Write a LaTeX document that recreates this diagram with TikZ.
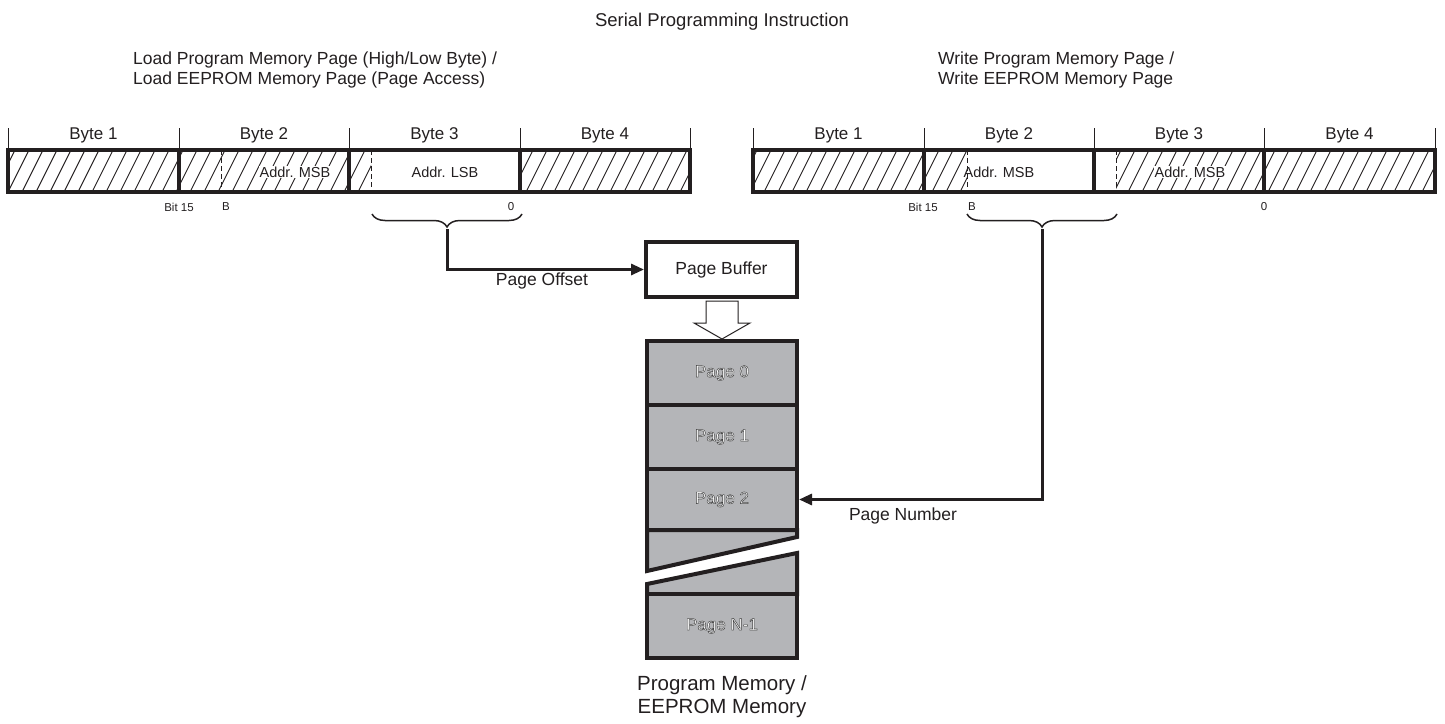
\documentclass[tikz,border=0pt]{standalone}
\usepackage{fontspec}
\setmainfont{Liberation Sans}
\usetikzlibrary{decorations.pathreplacing,arrows.meta}
\definecolor{ink}{HTML}{231F20}
\definecolor{memgray}{HTML}{B4B5B8}
\newcommand{\olt}[1]{\special{pdf:literal direct 0.25 0.25 0.25 RG 0.45 w 2 Tr}#1\special{pdf:literal direct 0 Tr}}
\newcommand{\hatchbox}[4]{%
  \begin{scope}
    \clip (#1,#2) rectangle (#3,#4);
    \foreach \k in {0,...,105} \draw[hatchline] (\k*14-21,#4+2) -- ++(24,-48);
  \end{scope}}
\tikzset{
  reg/.style={draw=ink, line width=4pt},
  ticks/.style={draw=ink, line width=1pt},
  hatchline/.style={draw=ink, line width=0.9pt},
  dashsep/.style={draw=ink, line width=1pt, dash pattern=on 5pt off 3pt},
  bytelabel/.style={font=\fontsize{17}{20}\selectfont, text=ink, anchor=base, inner sep=0pt},
  field/.style={font=\fontsize{14.5}{17}\selectfont, text=ink, fill=white, inner sep=1pt},
  plainfield/.style={font=\fontsize{14.5}{17}\selectfont, text=ink, inner sep=1pt},
  bitlabel/.style={font=\fontsize{11.5}{14}\selectfont, text=ink, inner sep=0pt},
  hdr/.style={font=\fontsize{17.5}{20}\selectfont, text=ink, align=left, anchor=west, inner sep=0pt},
  conn/.style={draw=ink, line width=3pt, -{Triangle[length=13pt,width=11pt]}},
  bracedeco/.style={draw=ink, line width=1.5pt, decorate, decoration={brace, amplitude=13pt, mirror}},
  pagebox/.style={draw=ink, fill=memgray, line width=4pt, minimum width=150pt, inner sep=0pt},
  pagetext/.style={font=\fontsize{17}{20}\selectfont, text=white},
  boxnode/.style={draw=ink, fill=white, line width=4pt, minimum width=151pt, minimum height=55pt, font=\fontsize{17.5}{20}\selectfont, text=ink},
  label/.style={font=\fontsize{17.5}{20}\selectfont, text=ink, inner sep=0pt}
}
\begin{document}
\begin{tikzpicture}[x=1pt,y=-1pt]
\useasboundingbox (0,0) rectangle (1445,723);

% title and headers
\node[font=\fontsize{18.5}{22}\selectfont, text=ink] (title) at (722,22) {Serial Programming Instruction};
\node[hdr] (lhdr) at (133,70) {Load Program Memory Page (High/Low Byte) /\\Load EEPROM Memory Page (Page Access)};
\node[hdr] (rhdr) at (938,70) {Write Program Memory Page /\\Write EEPROM Memory Page};

% ---------- left register ----------
\foreach \x in {8,179,349,520,690} \draw[ticks] (\x,128) -- (\x,150);
\node[bytelabel] (lb1) at (93.5,139) {Byte 1};
\node[bytelabel] (lb2) at (264,139) {Byte 2};
\node[bytelabel] (lb3) at (434.5,139) {Byte 3};
\node[bytelabel] (lb4) at (605,139) {Byte 4};
\hatchbox{8}{150}{179}{192}
\hatchbox{179}{150}{349}{192}
\hatchbox{349}{150}{371}{192}
\hatchbox{520}{150}{690}{192}
\node[field] (lmsb) at (295,172) {Addr. MSB};
\node[plainfield] (llsb) at (445,172) {Addr. LSB};
\draw[dashsep] (221,150) -- (221,192);
\draw[dashsep] (371,150) -- (371,192);
\draw[reg] (8,150) rectangle (690,192);
\foreach \x in {179,349,520} \draw[reg] (\x,150) -- (\x,192);
\node[bitlabel] (lbit) at (179,207) {Bit 15};
\node[bitlabel] (lb) at (226,207) {B};
\node[bitlabel] (lzero) at (511,207) {0};

% ---------- right register ----------
\foreach \x in {753,924,1094,1264,1435} \draw[ticks] (\x,128) -- (\x,150);
\node[bytelabel] (rb1) at (838.5,139) {Byte 1};
\node[bytelabel] (rb2) at (1009,139) {Byte 2};
\node[bytelabel] (rb3) at (1179,139) {Byte 3};
\node[bytelabel] (rb4) at (1349.5,139) {Byte 4};
\hatchbox{753}{150}{924}{192}
\hatchbox{924}{150}{967}{192}
\hatchbox{1116}{150}{1264}{192}
\hatchbox{1264}{150}{1435}{192}
\node[plainfield] (rmsb) at (999,172) {Addr. MSB};
\node[field] (rmsb2) at (1190,172) {Addr. MSB};
\draw[dashsep] (967,150) -- (967,192);
\draw[dashsep] (1116,150) -- (1116,192);
\draw[reg] (753,150) rectangle (1435,192);
\foreach \x in {924,1094,1264} \draw[reg] (\x,150) -- (\x,192);
\node[bitlabel] (rbit) at (923,207) {Bit 15};
\node[bitlabel] (rb) at (972,207) {B};
\node[bitlabel] (rzero) at (1264,207) {0};

% ---------- braces ----------
\draw[bracedeco] (372,214) -- (522,214);
\coordinate (lbt) at (447,229);
\draw[bracedeco] (967,214) -- (1117,214);
\coordinate (rbt) at (1042,229);

% ---------- page buffer ----------
\node[boxnode] (pb) at (721.5,269.5) {Page Buffer};
\draw[conn] (lbt) |- (pb.west);
\node[label] (poff) at (542,281) {Page Offset};

% hollow arrow
\draw[draw=ink, line width=1pt, fill=white, line join=miter]
  (706,301) -- (738,301) -- (738,323) -- (750,323) -- (722,339) -- (694,323) -- (706,323) -- cycle;

% ---------- memory ----------
\filldraw[fill=memgray, draw=ink, line width=4pt, line join=miter]
  (647,530) -- (647,571) -- (797,537) -- (797,530) -- cycle;
\filldraw[fill=memgray, draw=ink, line width=4pt, line join=miter]
  (647,594) -- (647,584) -- (797,553) -- (797,594) -- cycle;
\node[pagebox, minimum height=64pt] (p0) at (722,373) {};
\node[pagebox, minimum height=64pt] (p1) at (722,437) {};
\node[pagebox, minimum height=61pt] (p2) at (722,499.5) {};
\node[pagebox, minimum height=64pt] (pn) at (722,626) {};
\node[pagetext] (t0) at (p0) {\olt{Page 0}};
\node[pagetext] (t1) at (p1) {\olt{Page 1}};
\node[pagetext] (t2) at (p2) {\olt{Page 2}};
\node[pagetext] (tn) at (pn) {\olt{Page N-1}};

\draw[conn] (rbt) |- (p2.east);
\node[label] (pnum) at (903,516) {Page Number};

\node[font=\fontsize{20.5}{23}\selectfont, text=ink, align=center, inner sep=0pt] (pm) at (722,697) {Program Memory /\\EEPROM Memory};
\end{tikzpicture}
\end{document}
